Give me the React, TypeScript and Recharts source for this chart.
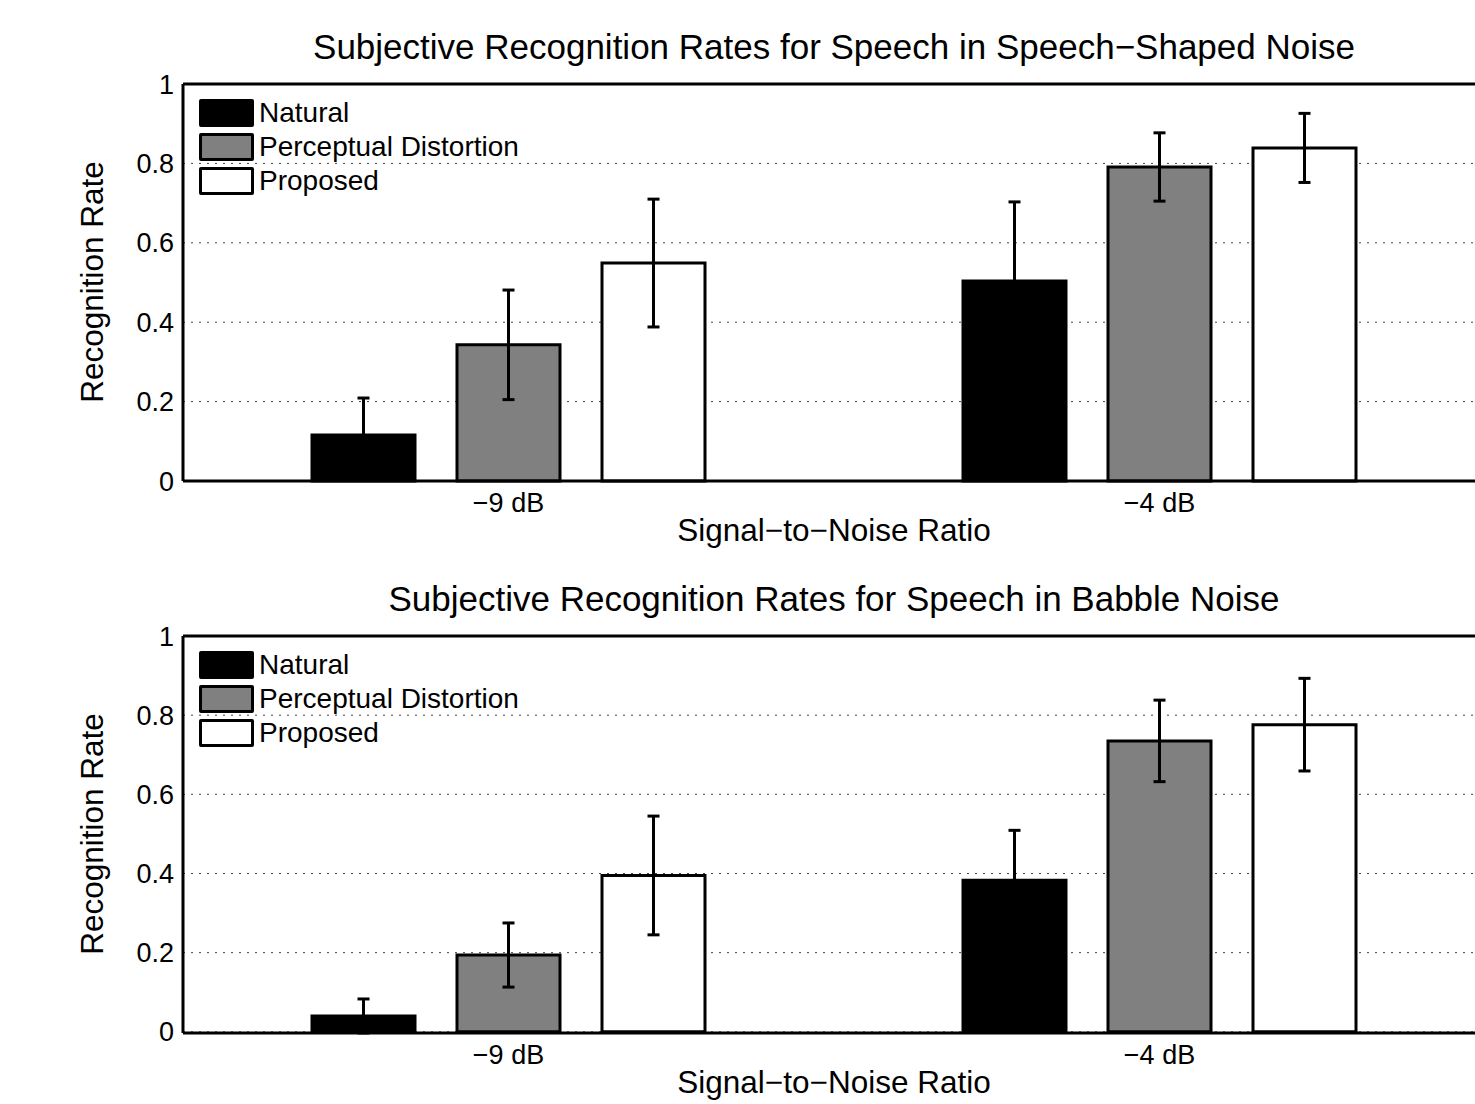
import { BarChart, Bar, XAxis, YAxis, CartesianGrid, ErrorBar, ReferenceLine } from 'recharts';

const FONT = '"Liberation Sans", Arial, Helvetica, sans-serif';

const categories = ['\u22129 dB', '\u22124 dB'];
const seriesNames = ['Natural', 'Perceptual Distortion', 'Proposed'];
const seriesFills = ['#000000', '#808080', '#ffffff'];
const yTicks = [0, 0.2, 0.4, 0.6, 0.8, 1];

// speech-shaped noise
const ssnNatural = [0.116, 0.504];
const ssnNaturalErr = [0.093, 0.199];
const ssnPerceptual = [0.343, 0.791];
const ssnPerceptualErr = [0.138, 0.086];
const ssnProposed = [0.549, 0.839];
const ssnProposedErr = [0.161, 0.087];

// babble noise
const babNatural = [0.04, 0.383];
const babNaturalErr = [0.043, 0.126];
const babPerceptual = [0.194, 0.735];
const babPerceptualErr = [0.081, 0.103];
const babProposed = [0.395, 0.776];
const babProposedErr = [0.15, 0.117];

const buildRows = (vals: number[][], errs: number[][]) =>
  categories.map((snr, i) => ({
    snr,
    s0: vals[0][i], e0: errs[0][i],
    s1: vals[1][i], e1: errs[1][i],
    s2: vals[2][i], e2: errs[2][i],
  }));

const ssnData = buildRows([ssnNatural, ssnPerceptual, ssnProposed], [ssnNaturalErr, ssnPerceptualErr, ssnProposedErr]);
const babData = buildRows([babNatural, babPerceptual, babProposed], [babNaturalErr, babPerceptualErr, babProposedErr]);

const W = 1495;
const H = 552;

function LegendBox() {
  return (
    <div style={{ position: 'absolute', left: 199, top: 96, fontFamily: FONT, fontSize: 28, color: '#000' }}>
      {seriesNames.map((name, i) => (
        <div key={name} style={{ display: 'flex', alignItems: 'center', height: 34 }}>
          <div
            style={{
              width: 49,
              height: 22,
              background: seriesFills[i],
              border: '3px solid #000',
              borderRadius: 2,
              marginRight: 5,
            }}
          />
          <span style={{ lineHeight: '34px' }}>{name}</span>
        </div>
      ))}
    </div>
  );
}

function Panel({ title, data }: { title: string; data: any[] }) {
  return (
    <div style={{ position: 'relative', width: W, height: H }}>
      <BarChart
        width={W}
        height={H}
        data={data}
        margin={{ top: 84, right: 10, bottom: 0, left: 143 }}
        barSize={103}
        barGap={42}
      >
        <CartesianGrid vertical={false} strokeDasharray="2 6" stroke="#444" />
        <XAxis
          dataKey="snr"
          height={71}
          axisLine={{ stroke: '#000', strokeWidth: 3 }}
          tickLine={false}
          tickSize={0}
          tickMargin={12}
          tick={{ fill: '#000', fontSize: 27, fontFamily: FONT }}
        />
        <YAxis
          width={40}
          domain={[0, 1]}
          ticks={yTicks}
          interval={0}
          axisLine={{ stroke: '#000', strokeWidth: 3 }}
          tickLine={false}
          tickSize={0}
          tickMargin={9}
          tick={{ fill: '#000', fontSize: 27, fontFamily: FONT }}
        />
        <ReferenceLine y={1} stroke="#000" strokeWidth={3} />
        {seriesNames.map((name, i) => (
          <Bar
            key={name}
            name={name}
            dataKey={`s${i}`}
            fill={seriesFills[i]}
            stroke="#000"
            strokeWidth={3}
            isAnimationActive={false}
          >
            <ErrorBar dataKey={`e${i}`} width={6} stroke="#000" strokeWidth={3} />
          </Bar>
        ))}
      </BarChart>
      <LegendBox />
      <svg
        width={W}
        height={H}
        style={{ position: 'absolute', left: 0, top: 0, pointerEvents: 'none', fontFamily: FONT }}
      >
        <text x={834} y={59} textAnchor="middle" fontSize={35} fill="#000">
          {title}
        </text>
        <text x={834} y={541} textAnchor="middle" fontSize={31.5} fill="#000">
          Signal{'\u2212'}to{'\u2212'}Noise Ratio
        </text>
        <text
          x={103}
          y={282}
          textAnchor="middle"
          fontSize={31.5}
          fill="#000"
          transform="rotate(-90 103 282)"
        >
          Recognition Rate
        </text>
      </svg>
    </div>
  );
}

export default function App() {
  return (
    <div
      style={{
        position: 'fixed',
        left: 0,
        top: 0,
        width: 1475,
        height: 1104,
        overflow: 'hidden',
        background: '#fff',
      }}
    >
      <Panel title={'Subjective Recognition Rates for Speech in Speech\u2212Shaped Noise'} data={ssnData} />
      <Panel title="Subjective Recognition Rates for Speech in Babble Noise" data={babData} />
    </div>
  );
}
